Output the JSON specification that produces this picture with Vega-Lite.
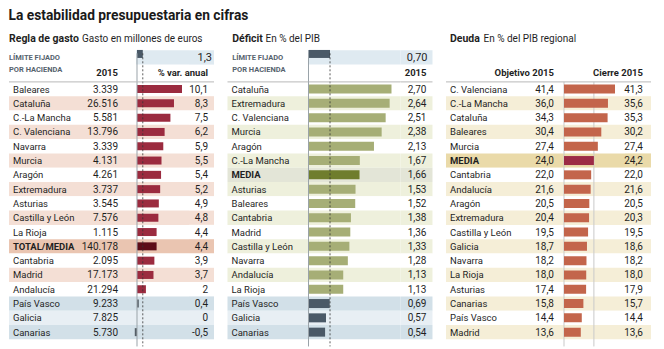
{
"$schema": "https://vega.github.io/schema/vega-lite/v6.json",
"padding": {"left": 8, "top": 8, "right": 5, "bottom": 5},
"background": "white",
"title": {"text": "La estabilidad presupuestaria en cifras", "anchor": "start", "font": "Roboto", "fontSize": 13.8, "fontWeight": "bold", "color": "#1a1a1a", "offset": 11.7},
"datasets": {
"gasto": [
{"region":"Baleares","gasto":3339,"pct":10.1,"grupo":"normal"},
{"region":"Cataluña","gasto":26516,"pct":8.3,"grupo":"normal"},
{"region":"C.-La Mancha","gasto":5581,"pct":7.5,"grupo":"normal"},
{"region":"C. Valenciana","gasto":13796,"pct":6.2,"grupo":"normal"},
{"region":"Navarra","gasto":3339,"pct":5.9,"grupo":"normal"},
{"region":"Murcia","gasto":4131,"pct":5.5,"grupo":"normal"},
{"region":"Aragón","gasto":4261,"pct":5.4,"grupo":"normal"},
{"region":"Extremadura","gasto":3737,"pct":5.2,"grupo":"normal"},
{"region":"Asturias","gasto":3545,"pct":4.9,"grupo":"normal"},
{"region":"Castilla y León","gasto":7576,"pct":4.8,"grupo":"normal"},
{"region":"La Rioja","gasto":1115,"pct":4.4,"grupo":"normal"},
{"region":"TOTAL/MEDIA","gasto":140178,"pct":4.4,"grupo":"media"},
{"region":"Cantabria","gasto":2095,"pct":3.9,"grupo":"normal"},
{"region":"Madrid","gasto":17173,"pct":3.7,"grupo":"normal"},
{"region":"Andalucía","gasto":21294,"pct":2,"grupo":"normal"},
{"region":"País Vasco","gasto":9233,"pct":0.4,"grupo":"cumple"},
{"region":"Galicia","gasto":7825,"pct":0,"grupo":"cumple"},
{"region":"Canarias","gasto":5730,"pct":-0.5,"grupo":"cumple"}
],
"deficit": [
{"region":"Cataluña","valor":2.70,"grupo":"normal"},
{"region":"Extremadura","valor":2.64,"grupo":"normal"},
{"region":"C. Valenciana","valor":2.51,"grupo":"normal"},
{"region":"Murcia","valor":2.38,"grupo":"normal"},
{"region":"Aragón","valor":2.13,"grupo":"normal"},
{"region":"C.-La Mancha","valor":1.67,"grupo":"normal"},
{"region":"MEDIA","valor":1.66,"grupo":"media"},
{"region":"Asturias","valor":1.53,"grupo":"normal"},
{"region":"Baleares","valor":1.52,"grupo":"normal"},
{"region":"Cantabria","valor":1.38,"grupo":"normal"},
{"region":"Madrid","valor":1.36,"grupo":"normal"},
{"region":"Castilla y León","valor":1.33,"grupo":"normal"},
{"region":"Navarra","valor":1.28,"grupo":"normal"},
{"region":"Andalucía","valor":1.13,"grupo":"normal"},
{"region":"La Rioja","valor":1.13,"grupo":"normal"},
{"region":"País Vasco","valor":0.69,"grupo":"cumple"},
{"region":"Galicia","valor":0.57,"grupo":"cumple"},
{"region":"Canarias","valor":0.54,"grupo":"cumple"}
],
"deuda": [
{"region":"C. Valenciana","objetivo":41.4,"cierre":41.3,"grupo":"normal"},
{"region":"C.-La Mancha","objetivo":36.0,"cierre":35.6,"grupo":"normal"},
{"region":"Cataluña","objetivo":34.3,"cierre":35.3,"grupo":"normal"},
{"region":"Baleares","objetivo":30.4,"cierre":30.2,"grupo":"normal"},
{"region":"Murcia","objetivo":27.4,"cierre":27.4,"grupo":"normal"},
{"region":"MEDIA","objetivo":24.0,"cierre":24.2,"grupo":"media"},
{"region":"Cantabria","objetivo":22.0,"cierre":22.0,"grupo":"normal"},
{"region":"Andalucía","objetivo":21.6,"cierre":21.6,"grupo":"normal"},
{"region":"Aragón","objetivo":20.5,"cierre":20.5,"grupo":"normal"},
{"region":"Extremadura","objetivo":20.4,"cierre":20.3,"grupo":"normal"},
{"region":"Castilla y León","objetivo":19.5,"cierre":19.5,"grupo":"normal"},
{"region":"Galicia","objetivo":18.7,"cierre":18.6,"grupo":"normal"},
{"region":"Navarra","objetivo":18.2,"cierre":18.2,"grupo":"normal"},
{"region":"La Rioja","objetivo":18.0,"cierre":18.0,"grupo":"normal"},
{"region":"Asturias","objetivo":17.4,"cierre":17.9,"grupo":"normal"},
{"region":"Canarias","objetivo":15.8,"cierre":15.7,"grupo":"normal"},
{"region":"País Vasco","objetivo":14.4,"cierre":14.4,"grupo":"normal"},
{"region":"Madrid","objetivo":13.6,"cierre":13.6,"grupo":"normal"}
]
},
"bounds": "full",
"spacing": 11.5,
"hconcat": [
{"bounds": "flush", "spacing": 0, "hconcat": [
 {"width": 70, "height": 300.3, "data": {"name": "gasto"}, "transform": [{"window": [{"op": "row_number", "as": "idx"}]}], "layer": [
  {"mark": {"type": "rect", "x": 0, "x2": "width"}, "encoding": {"y": {"field": "region", "type": "nominal", "scale": {"domain": ["_h0","_h1","_h2","Baleares","Cataluña","C.-La Mancha","C. Valenciana","Navarra","Murcia","Aragón","Extremadura","Asturias","Castilla y León","La Rioja","TOTAL/MEDIA","Cantabria","Madrid","Andalucía","País Vasco","Galicia","Canarias"], "paddingInner": 0, "paddingOuter": 0}, "axis": null}, "color": {"condition": [{"test": "datum.grupo=='media'", "value": "#eac5b1"}, {"test": "datum.grupo=='cumple'&&datum.idx%2==0", "value": "#d2e0e8"}, {"test": "datum.grupo=='cumple'", "value": "#e8eff4"}, {"test": "datum.idx%2==0", "value": "#f4dfd5"}], "value": "#ffffff"}}},
  {"transform": [{"filter": "datum.grupo!='media'"}], "mark": {"type": "text", "align": "left", "baseline": "alphabetic", "x": 0, "dx": 4, "dy": 3.5, "fontSize": 9.5}, "encoding": {"y": {"field": "region", "type": "nominal", "scale": {"domain": ["_h0","_h1","_h2","Baleares","Cataluña","C.-La Mancha","C. Valenciana","Navarra","Murcia","Aragón","Extremadura","Asturias","Castilla y León","La Rioja","TOTAL/MEDIA","Cantabria","Madrid","Andalucía","País Vasco","Galicia","Canarias"], "paddingInner": 0, "paddingOuter": 0}, "axis": null}, "text": {"field": "region"}}},
  {"transform": [{"filter": "datum.grupo=='media'"}], "mark": {"type": "text", "align": "left", "baseline": "alphabetic", "x": 0, "dx": 4, "dy": 3.5, "fontSize": 9.5, "fontWeight": "bold"}, "encoding": {"y": {"field": "region", "type": "nominal", "scale": {"domain": ["_h0","_h1","_h2","Baleares","Cataluña","C.-La Mancha","C. Valenciana","Navarra","Murcia","Aragón","Extremadura","Asturias","Castilla y León","La Rioja","TOTAL/MEDIA","Cantabria","Madrid","Andalucía","País Vasco","Galicia","Canarias"], "paddingInner": 0, "paddingOuter": 0}, "axis": null}, "text": {"field": "region"}}},
  {"data": {"values": [{}]}, "mark": {"type": "text", "text": "Regla de gasto", "align": "left", "baseline": "alphabetic", "x": 0, "yOffset": -4, "fontSize": 10.5, "fontWeight": "bold"}, "encoding": {"y": {"datum": "_h0", "type": "nominal", "scale": {"domain": ["_h0","_h1","_h2","Baleares","Cataluña","C.-La Mancha","C. Valenciana","Navarra","Murcia","Aragón","Extremadura","Asturias","Castilla y León","La Rioja","TOTAL/MEDIA","Cantabria","Madrid","Andalucía","País Vasco","Galicia","Canarias"], "paddingInner": 0, "paddingOuter": 0}, "axis": null}}},
  {"data": {"values": [{}]}, "mark": {"type": "text", "text": "Gasto en millones de euros", "align": "left", "baseline": "alphabetic", "x": 0, "dx": 73, "yOffset": -4, "fontSize": 10}, "encoding": {"y": {"datum": "_h0", "type": "nominal", "scale": {"domain": ["_h0","_h1","_h2","Baleares","Cataluña","C.-La Mancha","C. Valenciana","Navarra","Murcia","Aragón","Extremadura","Asturias","Castilla y León","La Rioja","TOTAL/MEDIA","Cantabria","Madrid","Andalucía","País Vasco","Galicia","Canarias"], "paddingInner": 0, "paddingOuter": 0}, "axis": null}}},
  {"data": {"values": [{}]}, "mark": {"type": "text", "text": ["LÍMITE FIJADO", "POR HACIENDA"], "lineHeight": 11.7, "align": "left", "baseline": "middle", "x": 0, "yOffset": -2.5, "fontSize": 7.5, "fontWeight": "bold", "color": "#56636e"}, "encoding": {"y": {"datum": "_h1", "type": "nominal", "scale": {"domain": ["_h0","_h1","_h2","Baleares","Cataluña","C.-La Mancha","C. Valenciana","Navarra","Murcia","Aragón","Extremadura","Asturias","Castilla y León","La Rioja","TOTAL/MEDIA","Cantabria","Madrid","Andalucía","País Vasco","Galicia","Canarias"], "paddingInner": 0, "paddingOuter": 0}, "axis": null}}},
  {"data": {"values": [{}]}, "mark": {"type": "rule", "color": "#b8b8b8"}, "encoding": {"y": {"datum": "_h2", "type": "nominal", "bandPosition": 1, "scale": {"domain": ["_h0","_h1","_h2","Baleares","Cataluña","C.-La Mancha","C. Valenciana","Navarra","Murcia","Aragón","Extremadura","Asturias","Castilla y León","La Rioja","TOTAL/MEDIA","Cantabria","Madrid","Andalucía","País Vasco","Galicia","Canarias"], "paddingInner": 0, "paddingOuter": 0}, "axis": null}}}
 ]},
 {"width": 42, "height": 300.3, "data": {"name": "gasto"}, "transform": [{"window": [{"op": "row_number", "as": "idx"}]}], "layer": [
  {"mark": {"type": "rect", "x": 0, "x2": "width"}, "encoding": {"y": {"field": "region", "type": "nominal", "scale": {"domain": ["_h0","_h1","_h2","Baleares","Cataluña","C.-La Mancha","C. Valenciana","Navarra","Murcia","Aragón","Extremadura","Asturias","Castilla y León","La Rioja","TOTAL/MEDIA","Cantabria","Madrid","Andalucía","País Vasco","Galicia","Canarias"], "paddingInner": 0, "paddingOuter": 0}, "axis": null}, "color": {"condition": [{"test": "datum.grupo=='media'", "value": "#eac5b1"}, {"test": "datum.grupo=='cumple'&&datum.idx%2==0", "value": "#d2e0e8"}, {"test": "datum.grupo=='cumple'", "value": "#e8eff4"}, {"test": "datum.idx%2==0", "value": "#f4dfd5"}], "value": "#ffffff"}}},
  {"mark": {"type": "text", "align": "right", "baseline": "alphabetic", "x": "width", "dx": -3, "dy": 3.5, "fontSize": 10}, "encoding": {"y": {"field": "region", "type": "nominal", "scale": {"domain": ["_h0","_h1","_h2","Baleares","Cataluña","C.-La Mancha","C. Valenciana","Navarra","Murcia","Aragón","Extremadura","Asturias","Castilla y León","La Rioja","TOTAL/MEDIA","Cantabria","Madrid","Andalucía","País Vasco","Galicia","Canarias"], "paddingInner": 0, "paddingOuter": 0}, "axis": null}, "text": {"field": "gasto", "type": "quantitative", "format": ",d"}}},
  {"data": {"values": [{}]}, "mark": {"type": "text", "text": "2015", "align": "right", "baseline": "alphabetic", "x": "width", "dx": -3, "yOffset": 1.5, "fontSize": 9.5, "fontWeight": "bold"}, "encoding": {"y": {"datum": "_h2", "type": "nominal", "scale": {"domain": ["_h0","_h1","_h2","Baleares","Cataluña","C.-La Mancha","C. Valenciana","Navarra","Murcia","Aragón","Extremadura","Asturias","Castilla y León","La Rioja","TOTAL/MEDIA","Cantabria","Madrid","Andalucía","País Vasco","Galicia","Canarias"], "paddingInner": 0, "paddingOuter": 0}, "axis": null}}},
  {"data": {"values": [{}]}, "mark": {"type": "rule", "color": "#b8b8b8"}, "encoding": {"y": {"datum": "_h2", "type": "nominal", "bandPosition": 1, "scale": {"domain": ["_h0","_h1","_h2","Baleares","Cataluña","C.-La Mancha","C. Valenciana","Navarra","Murcia","Aragón","Extremadura","Asturias","Castilla y León","La Rioja","TOTAL/MEDIA","Cantabria","Madrid","Andalucía","País Vasco","Galicia","Canarias"], "paddingInner": 0, "paddingOuter": 0}, "axis": null}}}
 ]},
 {"width": 68, "height": 300.3, "data": {"name": "gasto"}, "transform": [{"window": [{"op": "row_number", "as": "idx"}]}], "layer": [
  {"mark": {"type": "rect", "x": 0, "x2": "width"}, "encoding": {"y": {"field": "region", "type": "nominal", "scale": {"domain": ["_h0","_h1","_h2","Baleares","Cataluña","C.-La Mancha","C. Valenciana","Navarra","Murcia","Aragón","Extremadura","Asturias","Castilla y León","La Rioja","TOTAL/MEDIA","Cantabria","Madrid","Andalucía","País Vasco","Galicia","Canarias"], "paddingInner": 0, "paddingOuter": 0}, "axis": null}, "color": {"condition": [{"test": "datum.grupo=='media'", "value": "#eac5b1"}, {"test": "datum.grupo=='cumple'&&datum.idx%2==0", "value": "#d2e0e8"}, {"test": "datum.grupo=='cumple'", "value": "#e8eff4"}, {"test": "datum.idx%2==0", "value": "#f4dfd5"}], "value": "#ffffff"}}},
  {"data": {"values": [{}]}, "mark": {"type": "rect", "color": "#dfeaf1", "yOffset": -3}, "encoding": {"y": {"datum": "_h1", "type": "nominal", "scale": {"domain": ["_h0","_h1","_h2","Baleares","Cataluña","C.-La Mancha","C. Valenciana","Navarra","Murcia","Aragón","Extremadura","Asturias","Castilla y León","La Rioja","TOTAL/MEDIA","Cantabria","Madrid","Andalucía","País Vasco","Galicia","Canarias"], "paddingInner": 0, "paddingOuter": 0}, "axis": null}, "x": {"datum": -0.2, "type": "quantitative", "scale": {"domain": [-3.591, 11.672], "nice": false, "zero": false}, "axis": null}, "x2": {"datum": 11.672}}},
  {"data": {"values": [{"limite": 1.3}]}, "mark": {"type": "bar", "color": "#4a5967", "size": 8, "yOffset": -6.5}, "encoding": {"y": {"datum": "_h1", "type": "nominal", "scale": {"domain": ["_h0","_h1","_h2","Baleares","Cataluña","C.-La Mancha","C. Valenciana","Navarra","Murcia","Aragón","Extremadura","Asturias","Castilla y León","La Rioja","TOTAL/MEDIA","Cantabria","Madrid","Andalucía","País Vasco","Galicia","Canarias"], "paddingInner": 0, "paddingOuter": 0}, "axis": null}, "x": {"field": "limite", "type": "quantitative", "scale": {"domain": [-3.591, 11.672], "nice": false, "zero": false}, "axis": null}}},
  {"mark": {"type": "bar", "size": 8}, "encoding": {"y": {"field": "region", "type": "nominal", "scale": {"domain": ["_h0","_h1","_h2","Baleares","Cataluña","C.-La Mancha","C. Valenciana","Navarra","Murcia","Aragón","Extremadura","Asturias","Castilla y León","La Rioja","TOTAL/MEDIA","Cantabria","Madrid","Andalucía","País Vasco","Galicia","Canarias"], "paddingInner": 0, "paddingOuter": 0}, "axis": null}, "x": {"field": "pct", "type": "quantitative", "scale": {"domain": [-3.591, 11.672], "nice": false, "zero": false}, "axis": null}, "color": {"condition": [{"test": "datum.grupo=='media'", "value": "#5c0d18"}, {"test": "datum.grupo=='cumple'", "value": "#545e66"}], "value": "#9b2b3f"}}},
  {"data": {"values": [{}]}, "mark": {"type": "rule", "color": "#9aa3a9", "y2Offset": 14.3}, "encoding": {"x": {"datum": 0, "type": "quantitative", "scale": {"domain": [-3.591, 11.672], "nice": false, "zero": false}, "axis": null}, "y": {"datum": "_h1", "type": "nominal", "bandPosition": 0, "scale": {"domain": ["_h0","_h1","_h2","Baleares","Cataluña","C.-La Mancha","C. Valenciana","Navarra","Murcia","Aragón","Extremadura","Asturias","Castilla y León","La Rioja","TOTAL/MEDIA","Cantabria","Madrid","Andalucía","País Vasco","Galicia","Canarias"], "paddingInner": 0, "paddingOuter": 0}, "axis": null}, "y2": {"datum": "Canarias"}}},
  {"data": {"values": [{"limite": 1.3}]}, "mark": {"type": "rule", "color": "#333333", "strokeDash": [2, 2], "strokeWidth": 0.8, "y2Offset": 14.3}, "encoding": {"x": {"field": "limite", "type": "quantitative", "scale": {"domain": [-3.591, 11.672], "nice": false, "zero": false}, "axis": null}, "y": {"datum": "_h1", "type": "nominal", "bandPosition": 0, "scale": {"domain": ["_h0","_h1","_h2","Baleares","Cataluña","C.-La Mancha","C. Valenciana","Navarra","Murcia","Aragón","Extremadura","Asturias","Castilla y León","La Rioja","TOTAL/MEDIA","Cantabria","Madrid","Andalucía","País Vasco","Galicia","Canarias"], "paddingInner": 0, "paddingOuter": 0}, "axis": null}, "y2": {"datum": "Canarias"}}},
  {"data": {"values": [{}]}, "mark": {"type": "rule", "color": "#b8b8b8"}, "encoding": {"y": {"datum": "_h2", "type": "nominal", "bandPosition": 1, "scale": {"domain": ["_h0","_h1","_h2","Baleares","Cataluña","C.-La Mancha","C. Valenciana","Navarra","Murcia","Aragón","Extremadura","Asturias","Castilla y León","La Rioja","TOTAL/MEDIA","Cantabria","Madrid","Andalucía","País Vasco","Galicia","Canarias"], "paddingInner": 0, "paddingOuter": 0}, "axis": null}}}
 ]},
 {"width": 25, "height": 300.3, "data": {"name": "gasto"}, "transform": [{"window": [{"op": "row_number", "as": "idx"}]}], "layer": [
  {"mark": {"type": "rect", "x": 0, "x2": "width"}, "encoding": {"y": {"field": "region", "type": "nominal", "scale": {"domain": ["_h0","_h1","_h2","Baleares","Cataluña","C.-La Mancha","C. Valenciana","Navarra","Murcia","Aragón","Extremadura","Asturias","Castilla y León","La Rioja","TOTAL/MEDIA","Cantabria","Madrid","Andalucía","País Vasco","Galicia","Canarias"], "paddingInner": 0, "paddingOuter": 0}, "axis": null}, "color": {"condition": [{"test": "datum.grupo=='media'", "value": "#eac5b1"}, {"test": "datum.grupo=='cumple'&&datum.idx%2==0", "value": "#d2e0e8"}, {"test": "datum.grupo=='cumple'", "value": "#e8eff4"}, {"test": "datum.idx%2==0", "value": "#f4dfd5"}], "value": "#ffffff"}}},
  {"data": {"values": [{}]}, "mark": {"type": "rect", "color": "#dfeaf1", "yOffset": -3, "x": 0, "x2": "width"}, "encoding": {"y": {"datum": "_h1", "type": "nominal", "scale": {"domain": ["_h0","_h1","_h2","Baleares","Cataluña","C.-La Mancha","C. Valenciana","Navarra","Murcia","Aragón","Extremadura","Asturias","Castilla y León","La Rioja","TOTAL/MEDIA","Cantabria","Madrid","Andalucía","País Vasco","Galicia","Canarias"], "paddingInner": 0, "paddingOuter": 0}, "axis": null}}},
  {"mark": {"type": "text", "align": "right", "baseline": "alphabetic", "x": "width", "dx": -6, "dy": 3.5, "fontSize": 10}, "encoding": {"y": {"field": "region", "type": "nominal", "scale": {"domain": ["_h0","_h1","_h2","Baleares","Cataluña","C.-La Mancha","C. Valenciana","Navarra","Murcia","Aragón","Extremadura","Asturias","Castilla y León","La Rioja","TOTAL/MEDIA","Cantabria","Madrid","Andalucía","País Vasco","Galicia","Canarias"], "paddingInner": 0, "paddingOuter": 0}, "axis": null}, "text": {"field": "pct", "type": "quantitative", "format": ".1~f"}}},
  {"data": {"values": [{"limite": 1.3}]}, "mark": {"type": "text", "align": "right", "baseline": "alphabetic", "x": "width", "dx": -2, "yOffset": 1, "fontSize": 11}, "encoding": {"y": {"datum": "_h1", "type": "nominal", "scale": {"domain": ["_h0","_h1","_h2","Baleares","Cataluña","C.-La Mancha","C. Valenciana","Navarra","Murcia","Aragón","Extremadura","Asturias","Castilla y León","La Rioja","TOTAL/MEDIA","Cantabria","Madrid","Andalucía","País Vasco","Galicia","Canarias"], "paddingInner": 0, "paddingOuter": 0}, "axis": null}, "text": {"field": "limite", "type": "quantitative", "format": ".1f"}}},
  {"data": {"values": [{}]}, "mark": {"type": "text", "text": "% var. anual", "align": "right", "baseline": "alphabetic", "x": "width", "dx": -6, "yOffset": 1.5, "fontSize": 9.5, "fontWeight": "bold"}, "encoding": {"y": {"datum": "_h2", "type": "nominal", "scale": {"domain": ["_h0","_h1","_h2","Baleares","Cataluña","C.-La Mancha","C. Valenciana","Navarra","Murcia","Aragón","Extremadura","Asturias","Castilla y León","La Rioja","TOTAL/MEDIA","Cantabria","Madrid","Andalucía","País Vasco","Galicia","Canarias"], "paddingInner": 0, "paddingOuter": 0}, "axis": null}}},
  {"data": {"values": [{}]}, "mark": {"type": "rule", "color": "#b8b8b8"}, "encoding": {"y": {"datum": "_h2", "type": "nominal", "bandPosition": 1, "scale": {"domain": ["_h0","_h1","_h2","Baleares","Cataluña","C.-La Mancha","C. Valenciana","Navarra","Murcia","Aragón","Extremadura","Asturias","Castilla y León","La Rioja","TOTAL/MEDIA","Cantabria","Madrid","Andalucía","País Vasco","Galicia","Canarias"], "paddingInner": 0, "paddingOuter": 0}, "axis": null}}}
 ]}
]},
{"bounds": "flush", "spacing": 0, "hconcat": [
 {"width": 81, "height": 300.3, "data": {"name": "deficit"}, "transform": [{"window": [{"op": "row_number", "as": "idx"}]}], "layer": [
  {"mark": {"type": "rect", "x": 0, "x2": "width"}, "encoding": {"y": {"field": "region", "type": "nominal", "scale": {"domain": ["_h0","_h1","_h2","Cataluña","Extremadura","C. Valenciana","Murcia","Aragón","C.-La Mancha","MEDIA","Asturias","Baleares","Cantabria","Madrid","Castilla y León","Navarra","Andalucía","La Rioja","País Vasco","Galicia","Canarias"], "paddingInner": 0, "paddingOuter": 0}, "axis": null}, "color": {"condition": [{"test": "datum.grupo=='media'", "value": "#e3e5d7"}, {"test": "datum.grupo=='cumple'&&datum.idx%2==0", "value": "#d2e0e8"}, {"test": "datum.grupo=='cumple'", "value": "#e8eff4"}, {"test": "datum.idx%2==0", "value": "#eef0dc"}], "value": "#ffffff"}}},
  {"transform": [{"filter": "datum.grupo!='media'"}], "mark": {"type": "text", "align": "left", "baseline": "alphabetic", "x": 0, "dx": 4, "dy": 3.5, "fontSize": 9.5}, "encoding": {"y": {"field": "region", "type": "nominal", "scale": {"domain": ["_h0","_h1","_h2","Cataluña","Extremadura","C. Valenciana","Murcia","Aragón","C.-La Mancha","MEDIA","Asturias","Baleares","Cantabria","Madrid","Castilla y León","Navarra","Andalucía","La Rioja","País Vasco","Galicia","Canarias"], "paddingInner": 0, "paddingOuter": 0}, "axis": null}, "text": {"field": "region"}}},
  {"transform": [{"filter": "datum.grupo=='media'"}], "mark": {"type": "text", "align": "left", "baseline": "alphabetic", "x": 0, "dx": 4, "dy": 3.5, "fontSize": 9.5, "fontWeight": "bold"}, "encoding": {"y": {"field": "region", "type": "nominal", "scale": {"domain": ["_h0","_h1","_h2","Cataluña","Extremadura","C. Valenciana","Murcia","Aragón","C.-La Mancha","MEDIA","Asturias","Baleares","Cantabria","Madrid","Castilla y León","Navarra","Andalucía","La Rioja","País Vasco","Galicia","Canarias"], "paddingInner": 0, "paddingOuter": 0}, "axis": null}, "text": {"field": "region"}}},
  {"data": {"values": [{}]}, "mark": {"type": "text", "text": "Déficit", "align": "left", "baseline": "alphabetic", "x": 0, "dx": 4.7, "yOffset": -4, "fontSize": 10.5, "fontWeight": "bold"}, "encoding": {"y": {"datum": "_h0", "type": "nominal", "scale": {"domain": ["_h0","_h1","_h2","Cataluña","Extremadura","C. Valenciana","Murcia","Aragón","C.-La Mancha","MEDIA","Asturias","Baleares","Cantabria","Madrid","Castilla y León","Navarra","Andalucía","La Rioja","País Vasco","Galicia","Canarias"], "paddingInner": 0, "paddingOuter": 0}, "axis": null}}},
  {"data": {"values": [{}]}, "mark": {"type": "text", "text": "En % del PIB", "align": "left", "baseline": "alphabetic", "x": 0, "dx": 38, "yOffset": -4, "fontSize": 10}, "encoding": {"y": {"datum": "_h0", "type": "nominal", "scale": {"domain": ["_h0","_h1","_h2","Cataluña","Extremadura","C. Valenciana","Murcia","Aragón","C.-La Mancha","MEDIA","Asturias","Baleares","Cantabria","Madrid","Castilla y León","Navarra","Andalucía","La Rioja","País Vasco","Galicia","Canarias"], "paddingInner": 0, "paddingOuter": 0}, "axis": null}}},
  {"data": {"values": [{}]}, "mark": {"type": "text", "text": ["LÍMITE FIJADO", "POR HACIENDA"], "lineHeight": 11.7, "align": "left", "baseline": "middle", "x": 0, "dx": 4.7, "yOffset": -2.5, "fontSize": 7.5, "fontWeight": "bold", "color": "#56636e"}, "encoding": {"y": {"datum": "_h1", "type": "nominal", "scale": {"domain": ["_h0","_h1","_h2","Cataluña","Extremadura","C. Valenciana","Murcia","Aragón","C.-La Mancha","MEDIA","Asturias","Baleares","Cantabria","Madrid","Castilla y León","Navarra","Andalucía","La Rioja","País Vasco","Galicia","Canarias"], "paddingInner": 0, "paddingOuter": 0}, "axis": null}}},
  {"data": {"values": [{}]}, "mark": {"type": "rule", "color": "#b8b8b8"}, "encoding": {"y": {"datum": "_h2", "type": "nominal", "bandPosition": 1, "scale": {"domain": ["_h0","_h1","_h2","Cataluña","Extremadura","C. Valenciana","Murcia","Aragón","C.-La Mancha","MEDIA","Asturias","Baleares","Cantabria","Madrid","Castilla y León","Navarra","Andalucía","La Rioja","País Vasco","Galicia","Canarias"], "paddingInner": 0, "paddingOuter": 0}, "axis": null}}}
 ]},
 {"width": 92, "height": 300.3, "data": {"name": "deficit"}, "transform": [{"window": [{"op": "row_number", "as": "idx"}]}], "layer": [
  {"mark": {"type": "rect", "x": 0, "x2": "width"}, "encoding": {"y": {"field": "region", "type": "nominal", "scale": {"domain": ["_h0","_h1","_h2","Cataluña","Extremadura","C. Valenciana","Murcia","Aragón","C.-La Mancha","MEDIA","Asturias","Baleares","Cantabria","Madrid","Castilla y León","Navarra","Andalucía","La Rioja","País Vasco","Galicia","Canarias"], "paddingInner": 0, "paddingOuter": 0}, "axis": null}, "color": {"condition": [{"test": "datum.grupo=='media'", "value": "#e3e5d7"}, {"test": "datum.grupo=='cumple'&&datum.idx%2==0", "value": "#d2e0e8"}, {"test": "datum.grupo=='cumple'", "value": "#e8eff4"}, {"test": "datum.idx%2==0", "value": "#eef0dc"}], "value": "#ffffff"}}},
  {"data": {"values": [{}]}, "mark": {"type": "rect", "color": "#dfeaf1", "yOffset": -3, "x": 0, "x2": "width"}, "encoding": {"y": {"datum": "_h1", "type": "nominal", "scale": {"domain": ["_h0","_h1","_h2","Cataluña","Extremadura","C. Valenciana","Murcia","Aragón","C.-La Mancha","MEDIA","Asturias","Baleares","Cantabria","Madrid","Castilla y León","Navarra","Andalucía","La Rioja","País Vasco","Galicia","Canarias"], "paddingInner": 0, "paddingOuter": 0}, "axis": null}}},
  {"data": {"values": [{"limite": 0.7}]}, "mark": {"type": "bar", "color": "#4a5967", "size": 8, "yOffset": -6.5}, "encoding": {"y": {"datum": "_h1", "type": "nominal", "scale": {"domain": ["_h0","_h1","_h2","Cataluña","Extremadura","C. Valenciana","Murcia","Aragón","C.-La Mancha","MEDIA","Asturias","Baleares","Cantabria","Madrid","Castilla y León","Navarra","Andalucía","La Rioja","País Vasco","Galicia","Canarias"], "paddingInner": 0, "paddingOuter": 0}, "axis": null}, "x": {"field": "limite", "type": "quantitative", "scale": {"domain": [0, 2.993], "nice": false, "zero": false}, "axis": null}}},
  {"mark": {"type": "bar", "size": 9}, "encoding": {"y": {"field": "region", "type": "nominal", "scale": {"domain": ["_h0","_h1","_h2","Cataluña","Extremadura","C. Valenciana","Murcia","Aragón","C.-La Mancha","MEDIA","Asturias","Baleares","Cantabria","Madrid","Castilla y León","Navarra","Andalucía","La Rioja","País Vasco","Galicia","Canarias"], "paddingInner": 0, "paddingOuter": 0}, "axis": null}, "x": {"field": "valor", "type": "quantitative", "scale": {"domain": [0, 2.993], "nice": false, "zero": false}, "axis": null}, "color": {"condition": [{"test": "datum.grupo=='media'", "value": "#6f7d2d"}, {"test": "datum.grupo=='cumple'", "value": "#4a5967"}], "value": "#a6ae76"}}},
  {"data": {"values": [{}]}, "mark": {"type": "rule", "color": "#9aa3a9", "y2Offset": 14.3}, "encoding": {"x": {"datum": 0, "type": "quantitative", "scale": {"domain": [0, 2.993], "nice": false, "zero": false}, "axis": null}, "y": {"datum": "_h1", "type": "nominal", "bandPosition": 0, "scale": {"domain": ["_h0","_h1","_h2","Cataluña","Extremadura","C. Valenciana","Murcia","Aragón","C.-La Mancha","MEDIA","Asturias","Baleares","Cantabria","Madrid","Castilla y León","Navarra","Andalucía","La Rioja","País Vasco","Galicia","Canarias"], "paddingInner": 0, "paddingOuter": 0}, "axis": null}, "y2": {"datum": "Canarias"}}},
  {"data": {"values": [{"limite": 0.7}]}, "mark": {"type": "rule", "color": "#333333", "strokeDash": [2, 2], "strokeWidth": 0.8, "y2Offset": 14.3}, "encoding": {"x": {"field": "limite", "type": "quantitative", "scale": {"domain": [0, 2.993], "nice": false, "zero": false}, "axis": null}, "y": {"datum": "_h1", "type": "nominal", "bandPosition": 0, "scale": {"domain": ["_h0","_h1","_h2","Cataluña","Extremadura","C. Valenciana","Murcia","Aragón","C.-La Mancha","MEDIA","Asturias","Baleares","Cantabria","Madrid","Castilla y León","Navarra","Andalucía","La Rioja","País Vasco","Galicia","Canarias"], "paddingInner": 0, "paddingOuter": 0}, "axis": null}, "y2": {"datum": "Canarias"}}},
  {"data": {"values": [{}]}, "mark": {"type": "rule", "color": "#b8b8b8"}, "encoding": {"y": {"datum": "_h2", "type": "nominal", "bandPosition": 1, "scale": {"domain": ["_h0","_h1","_h2","Cataluña","Extremadura","C. Valenciana","Murcia","Aragón","C.-La Mancha","MEDIA","Asturias","Baleares","Cantabria","Madrid","Castilla y León","Navarra","Andalucía","La Rioja","País Vasco","Galicia","Canarias"], "paddingInner": 0, "paddingOuter": 0}, "axis": null}}}
 ]},
 {"width": 32, "height": 300.3, "data": {"name": "deficit"}, "transform": [{"window": [{"op": "row_number", "as": "idx"}]}], "layer": [
  {"mark": {"type": "rect", "x": 0, "x2": "width"}, "encoding": {"y": {"field": "region", "type": "nominal", "scale": {"domain": ["_h0","_h1","_h2","Cataluña","Extremadura","C. Valenciana","Murcia","Aragón","C.-La Mancha","MEDIA","Asturias","Baleares","Cantabria","Madrid","Castilla y León","Navarra","Andalucía","La Rioja","País Vasco","Galicia","Canarias"], "paddingInner": 0, "paddingOuter": 0}, "axis": null}, "color": {"condition": [{"test": "datum.grupo=='media'", "value": "#e3e5d7"}, {"test": "datum.grupo=='cumple'&&datum.idx%2==0", "value": "#d2e0e8"}, {"test": "datum.grupo=='cumple'", "value": "#e8eff4"}, {"test": "datum.idx%2==0", "value": "#eef0dc"}], "value": "#ffffff"}}},
  {"data": {"values": [{}]}, "mark": {"type": "rect", "color": "#dfeaf1", "yOffset": -3, "x": 0, "x2": "width"}, "encoding": {"y": {"datum": "_h1", "type": "nominal", "scale": {"domain": ["_h0","_h1","_h2","Cataluña","Extremadura","C. Valenciana","Murcia","Aragón","C.-La Mancha","MEDIA","Asturias","Baleares","Cantabria","Madrid","Castilla y León","Navarra","Andalucía","La Rioja","País Vasco","Galicia","Canarias"], "paddingInner": 0, "paddingOuter": 0}, "axis": null}}},
  {"mark": {"type": "text", "align": "right", "baseline": "alphabetic", "x": "width", "dx": -6, "dy": 3.5, "fontSize": 10}, "encoding": {"y": {"field": "region", "type": "nominal", "scale": {"domain": ["_h0","_h1","_h2","Cataluña","Extremadura","C. Valenciana","Murcia","Aragón","C.-La Mancha","MEDIA","Asturias","Baleares","Cantabria","Madrid","Castilla y León","Navarra","Andalucía","La Rioja","País Vasco","Galicia","Canarias"], "paddingInner": 0, "paddingOuter": 0}, "axis": null}, "text": {"field": "valor", "type": "quantitative", "format": ".2f"}}},
  {"data": {"values": [{"limite": 0.7}]}, "mark": {"type": "text", "align": "right", "baseline": "alphabetic", "x": "width", "dx": -5, "yOffset": 1, "fontSize": 11}, "encoding": {"y": {"datum": "_h1", "type": "nominal", "scale": {"domain": ["_h0","_h1","_h2","Cataluña","Extremadura","C. Valenciana","Murcia","Aragón","C.-La Mancha","MEDIA","Asturias","Baleares","Cantabria","Madrid","Castilla y León","Navarra","Andalucía","La Rioja","País Vasco","Galicia","Canarias"], "paddingInner": 0, "paddingOuter": 0}, "axis": null}, "text": {"field": "limite", "type": "quantitative", "format": ".2f"}}},
  {"data": {"values": [{}]}, "mark": {"type": "text", "text": "2015", "align": "right", "baseline": "alphabetic", "x": "width", "dx": -6, "yOffset": 1.5, "fontSize": 9.5, "fontWeight": "bold"}, "encoding": {"y": {"datum": "_h2", "type": "nominal", "scale": {"domain": ["_h0","_h1","_h2","Cataluña","Extremadura","C. Valenciana","Murcia","Aragón","C.-La Mancha","MEDIA","Asturias","Baleares","Cantabria","Madrid","Castilla y León","Navarra","Andalucía","La Rioja","País Vasco","Galicia","Canarias"], "paddingInner": 0, "paddingOuter": 0}, "axis": null}}},
  {"data": {"values": [{}]}, "mark": {"type": "rule", "color": "#b8b8b8"}, "encoding": {"y": {"datum": "_h2", "type": "nominal", "bandPosition": 1, "scale": {"domain": ["_h0","_h1","_h2","Cataluña","Extremadura","C. Valenciana","Murcia","Aragón","C.-La Mancha","MEDIA","Asturias","Baleares","Cantabria","Madrid","Castilla y León","Navarra","Andalucía","La Rioja","País Vasco","Galicia","Canarias"], "paddingInner": 0, "paddingOuter": 0}, "axis": null}}}
 ]}
]},
{"bounds": "flush", "spacing": 0, "hconcat": [
 {"width": 74, "height": 300.3, "data": {"name": "deuda"}, "transform": [{"window": [{"op": "row_number", "as": "idx"}]}], "layer": [
  {"mark": {"type": "rect", "x": 0, "x2": "width"}, "encoding": {"y": {"field": "region", "type": "nominal", "scale": {"domain": ["_h0","_h1","_h2","C. Valenciana","C.-La Mancha","Cataluña","Baleares","Murcia","MEDIA","Cantabria","Andalucía","Aragón","Extremadura","Castilla y León","Galicia","Navarra","La Rioja","Asturias","Canarias","País Vasco","Madrid"], "paddingInner": 0, "paddingOuter": 0}, "axis": null}, "color": {"condition": [{"test": "datum.grupo=='media'", "value": "#eadaa9"}, {"test": "datum.idx%2==0", "value": "#f5eed7"}], "value": "#ffffff"}}},
  {"transform": [{"filter": "datum.grupo!='media'"}], "mark": {"type": "text", "align": "left", "baseline": "alphabetic", "x": 0, "dx": 4, "dy": 3.5, "fontSize": 9.5}, "encoding": {"y": {"field": "region", "type": "nominal", "scale": {"domain": ["_h0","_h1","_h2","C. Valenciana","C.-La Mancha","Cataluña","Baleares","Murcia","MEDIA","Cantabria","Andalucía","Aragón","Extremadura","Castilla y León","Galicia","Navarra","La Rioja","Asturias","Canarias","País Vasco","Madrid"], "paddingInner": 0, "paddingOuter": 0}, "axis": null}, "text": {"field": "region"}}},
  {"transform": [{"filter": "datum.grupo=='media'"}], "mark": {"type": "text", "align": "left", "baseline": "alphabetic", "x": 0, "dx": 4, "dy": 3.5, "fontSize": 9.5, "fontWeight": "bold"}, "encoding": {"y": {"field": "region", "type": "nominal", "scale": {"domain": ["_h0","_h1","_h2","C. Valenciana","C.-La Mancha","Cataluña","Baleares","Murcia","MEDIA","Cantabria","Andalucía","Aragón","Extremadura","Castilla y León","Galicia","Navarra","La Rioja","Asturias","Canarias","País Vasco","Madrid"], "paddingInner": 0, "paddingOuter": 0}, "axis": null}, "text": {"field": "region"}}},
  {"data": {"values": [{}]}, "mark": {"type": "text", "text": "Deuda", "align": "left", "baseline": "alphabetic", "x": 0, "dx": 4, "yOffset": -4, "fontSize": 10.5, "fontWeight": "bold"}, "encoding": {"y": {"datum": "_h0", "type": "nominal", "scale": {"domain": ["_h0","_h1","_h2","C. Valenciana","C.-La Mancha","Cataluña","Baleares","Murcia","MEDIA","Cantabria","Andalucía","Aragón","Extremadura","Castilla y León","Galicia","Navarra","La Rioja","Asturias","Canarias","País Vasco","Madrid"], "paddingInner": 0, "paddingOuter": 0}, "axis": null}}},
  {"data": {"values": [{}]}, "mark": {"type": "text", "text": "En % del PIB regional", "align": "left", "baseline": "alphabetic", "x": 0, "dx": 37.5, "yOffset": -4, "fontSize": 10}, "encoding": {"y": {"datum": "_h0", "type": "nominal", "scale": {"domain": ["_h0","_h1","_h2","C. Valenciana","C.-La Mancha","Cataluña","Baleares","Murcia","MEDIA","Cantabria","Andalucía","Aragón","Extremadura","Castilla y León","Galicia","Navarra","La Rioja","Asturias","Canarias","País Vasco","Madrid"], "paddingInner": 0, "paddingOuter": 0}, "axis": null}}},
  {"data": {"values": [{}]}, "mark": {"type": "rule", "color": "#b8b8b8"}, "encoding": {"y": {"datum": "_h2", "type": "nominal", "bandPosition": 1, "scale": {"domain": ["_h0","_h1","_h2","C. Valenciana","C.-La Mancha","Cataluña","Baleares","Murcia","MEDIA","Cantabria","Andalucía","Aragón","Extremadura","Castilla y León","Galicia","Navarra","La Rioja","Asturias","Canarias","País Vasco","Madrid"], "paddingInner": 0, "paddingOuter": 0}, "axis": null}}}
 ]},
 {"width": 38, "height": 300.3, "data": {"name": "deuda"}, "transform": [{"window": [{"op": "row_number", "as": "idx"}]}], "layer": [
  {"mark": {"type": "rect", "x": 0, "x2": "width"}, "encoding": {"y": {"field": "region", "type": "nominal", "scale": {"domain": ["_h0","_h1","_h2","C. Valenciana","C.-La Mancha","Cataluña","Baleares","Murcia","MEDIA","Cantabria","Andalucía","Aragón","Extremadura","Castilla y León","Galicia","Navarra","La Rioja","Asturias","Canarias","País Vasco","Madrid"], "paddingInner": 0, "paddingOuter": 0}, "axis": null}, "color": {"condition": [{"test": "datum.grupo=='media'", "value": "#eadaa9"}, {"test": "datum.idx%2==0", "value": "#f5eed7"}], "value": "#ffffff"}}},
  {"mark": {"type": "text", "align": "right", "baseline": "alphabetic", "x": "width", "dx": -4, "dy": 3.5, "fontSize": 10}, "encoding": {"y": {"field": "region", "type": "nominal", "scale": {"domain": ["_h0","_h1","_h2","C. Valenciana","C.-La Mancha","Cataluña","Baleares","Murcia","MEDIA","Cantabria","Andalucía","Aragón","Extremadura","Castilla y León","Galicia","Navarra","La Rioja","Asturias","Canarias","País Vasco","Madrid"], "paddingInner": 0, "paddingOuter": 0}, "axis": null}, "text": {"field": "objetivo", "type": "quantitative", "format": ".1f"}}},
  {"data": {"values": [{}]}, "mark": {"type": "text", "text": "Objetivo 2015", "align": "right", "baseline": "alphabetic", "x": "width", "dx": -4, "yOffset": 1.5, "fontSize": 9.5, "fontWeight": "bold"}, "encoding": {"y": {"datum": "_h2", "type": "nominal", "scale": {"domain": ["_h0","_h1","_h2","C. Valenciana","C.-La Mancha","Cataluña","Baleares","Murcia","MEDIA","Cantabria","Andalucía","Aragón","Extremadura","Castilla y León","Galicia","Navarra","La Rioja","Asturias","Canarias","País Vasco","Madrid"], "paddingInner": 0, "paddingOuter": 0}, "axis": null}}},
  {"data": {"values": [{}]}, "mark": {"type": "rule", "color": "#b8b8b8"}, "encoding": {"y": {"datum": "_h2", "type": "nominal", "bandPosition": 1, "scale": {"domain": ["_h0","_h1","_h2","C. Valenciana","C.-La Mancha","Cataluña","Baleares","Murcia","MEDIA","Cantabria","Andalucía","Aragón","Extremadura","Castilla y León","Galicia","Navarra","La Rioja","Asturias","Canarias","País Vasco","Madrid"], "paddingInner": 0, "paddingOuter": 0}, "axis": null}}}
 ]},
 {"width": 67, "height": 300.3, "data": {"name": "deuda"}, "transform": [{"window": [{"op": "row_number", "as": "idx"}]}], "layer": [
  {"mark": {"type": "rect", "x": 0, "x2": "width"}, "encoding": {"y": {"field": "region", "type": "nominal", "scale": {"domain": ["_h0","_h1","_h2","C. Valenciana","C.-La Mancha","Cataluña","Baleares","Murcia","MEDIA","Cantabria","Andalucía","Aragón","Extremadura","Castilla y León","Galicia","Navarra","La Rioja","Asturias","Canarias","País Vasco","Madrid"], "paddingInner": 0, "paddingOuter": 0}, "axis": null}, "color": {"condition": [{"test": "datum.grupo=='media'", "value": "#eadaa9"}, {"test": "datum.idx%2==0", "value": "#f5eed7"}], "value": "#ffffff"}}},
  {"data": {"values": [{}]}, "mark": {"type": "rule", "color": "#c9c9c9", "y2Offset": 14.3}, "encoding": {"x": {"datum": 0, "type": "quantitative", "scale": {"domain": [-4.858, 49.39], "nice": false, "zero": false}, "axis": null}, "y": {"datum": "_h2", "type": "nominal", "bandPosition": 1, "scale": {"domain": ["_h0","_h1","_h2","C. Valenciana","C.-La Mancha","Cataluña","Baleares","Murcia","MEDIA","Cantabria","Andalucía","Aragón","Extremadura","Castilla y León","Galicia","Navarra","La Rioja","Asturias","Canarias","País Vasco","Madrid"], "paddingInner": 0, "paddingOuter": 0}, "axis": null}, "y2": {"datum": "Madrid"}}},
  {"transform": [{"filter": "datum.grupo=='media'"}], "mark": {"type": "rule", "color": "#c9c9c9", "y2Offset": 14.3}, "encoding": {"x": {"field": "cierre", "type": "quantitative", "scale": {"domain": [-4.858, 49.39], "nice": false, "zero": false}, "axis": null}, "y": {"datum": "_h2", "type": "nominal", "bandPosition": 1, "scale": {"domain": ["_h0","_h1","_h2","C. Valenciana","C.-La Mancha","Cataluña","Baleares","Murcia","MEDIA","Cantabria","Andalucía","Aragón","Extremadura","Castilla y León","Galicia","Navarra","La Rioja","Asturias","Canarias","País Vasco","Madrid"], "paddingInner": 0, "paddingOuter": 0}, "axis": null}, "y2": {"datum": "Madrid"}}},
  {"mark": {"type": "bar", "size": 9}, "encoding": {"y": {"field": "region", "type": "nominal", "scale": {"domain": ["_h0","_h1","_h2","C. Valenciana","C.-La Mancha","Cataluña","Baleares","Murcia","MEDIA","Cantabria","Andalucía","Aragón","Extremadura","Castilla y León","Galicia","Navarra","La Rioja","Asturias","Canarias","País Vasco","Madrid"], "paddingInner": 0, "paddingOuter": 0}, "axis": null}, "x": {"field": "cierre", "type": "quantitative", "scale": {"domain": [-4.858, 49.39], "nice": false, "zero": false}, "axis": null}, "color": {"condition": [{"test": "datum.grupo=='media'", "value": "#9c2b46"}], "value": "#c3654b"}}},
  {"data": {"values": [{}]}, "mark": {"type": "rule", "color": "#b8b8b8"}, "encoding": {"y": {"datum": "_h2", "type": "nominal", "bandPosition": 1, "scale": {"domain": ["_h0","_h1","_h2","C. Valenciana","C.-La Mancha","Cataluña","Baleares","Murcia","MEDIA","Cantabria","Andalucía","Aragón","Extremadura","Castilla y León","Galicia","Navarra","La Rioja","Asturias","Canarias","País Vasco","Madrid"], "paddingInner": 0, "paddingOuter": 0}, "axis": null}}}
 ]},
 {"width": 26, "height": 300.3, "data": {"name": "deuda"}, "transform": [{"window": [{"op": "row_number", "as": "idx"}]}], "layer": [
  {"mark": {"type": "rect", "x": 0, "x2": "width"}, "encoding": {"y": {"field": "region", "type": "nominal", "scale": {"domain": ["_h0","_h1","_h2","C. Valenciana","C.-La Mancha","Cataluña","Baleares","Murcia","MEDIA","Cantabria","Andalucía","Aragón","Extremadura","Castilla y León","Galicia","Navarra","La Rioja","Asturias","Canarias","País Vasco","Madrid"], "paddingInner": 0, "paddingOuter": 0}, "axis": null}, "color": {"condition": [{"test": "datum.grupo=='media'", "value": "#eadaa9"}, {"test": "datum.idx%2==0", "value": "#f5eed7"}], "value": "#ffffff"}}},
  {"mark": {"type": "text", "align": "right", "baseline": "alphabetic", "x": "width", "dx": -8, "dy": 3.5, "fontSize": 10}, "encoding": {"y": {"field": "region", "type": "nominal", "scale": {"domain": ["_h0","_h1","_h2","C. Valenciana","C.-La Mancha","Cataluña","Baleares","Murcia","MEDIA","Cantabria","Andalucía","Aragón","Extremadura","Castilla y León","Galicia","Navarra","La Rioja","Asturias","Canarias","País Vasco","Madrid"], "paddingInner": 0, "paddingOuter": 0}, "axis": null}, "text": {"field": "cierre", "type": "quantitative", "format": ".1f"}}},
  {"data": {"values": [{}]}, "mark": {"type": "text", "text": "Cierre 2015", "align": "right", "baseline": "alphabetic", "x": "width", "dx": -8, "yOffset": 1.5, "fontSize": 9.5, "fontWeight": "bold"}, "encoding": {"y": {"datum": "_h2", "type": "nominal", "scale": {"domain": ["_h0","_h1","_h2","C. Valenciana","C.-La Mancha","Cataluña","Baleares","Murcia","MEDIA","Cantabria","Andalucía","Aragón","Extremadura","Castilla y León","Galicia","Navarra","La Rioja","Asturias","Canarias","País Vasco","Madrid"], "paddingInner": 0, "paddingOuter": 0}, "axis": null}}},
  {"data": {"values": [{}]}, "mark": {"type": "rule", "color": "#b8b8b8"}, "encoding": {"y": {"datum": "_h2", "type": "nominal", "bandPosition": 1, "scale": {"domain": ["_h0","_h1","_h2","C. Valenciana","C.-La Mancha","Cataluña","Baleares","Murcia","MEDIA","Cantabria","Andalucía","Aragón","Extremadura","Castilla y León","Galicia","Navarra","La Rioja","Asturias","Canarias","País Vasco","Madrid"], "paddingInner": 0, "paddingOuter": 0}, "axis": null}}}
 ]}
]}
],
"config": {
 "view": {"stroke": null},
 "text": {"font": "Roboto", "color": "#1f1f1f"},
 "locale": {"number": {"decimal": ",", "thousands": ".", "grouping": [3], "currency": ["", " €"], "minus": "-"}}
}
}
